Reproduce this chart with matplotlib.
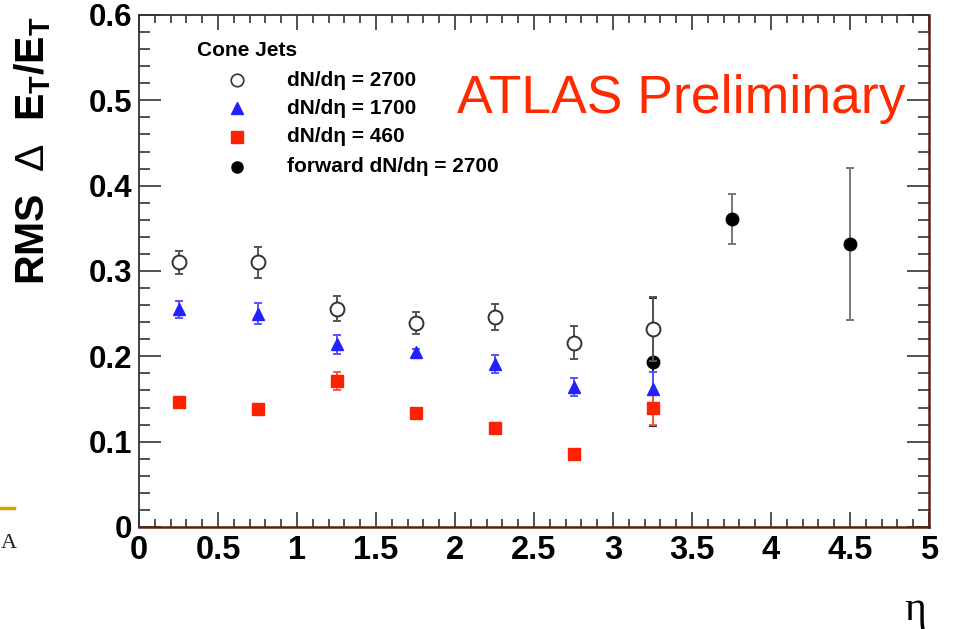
import matplotlib
matplotlib.use("Agg")
import matplotlib.pyplot as plt
from matplotlib.ticker import MultipleLocator
from matplotlib.lines import Line2D

# Cone-jet energy resolution vs pseudorapidity
eta_central = [0.25, 0.75, 1.25, 1.75, 2.25, 2.75, 3.25]

rms_2700 = [0.310, 0.310, 0.256, 0.239, 0.246, 0.216, 0.232]
err_2700 = [0.014, 0.018, 0.015, 0.013, 0.015, 0.019, 0.038]

rms_1700 = [0.255, 0.250, 0.214, 0.205, 0.191, 0.164, 0.162]
err_1700 = [0.010, 0.012, 0.011, 0.004, 0.010, 0.011, 0.020]

rms_460 = [0.147, 0.138, 0.171, 0.134, 0.116, 0.085, 0.139]
err_460 = [0.004, 0.006, 0.011, 0.004, 0.004, 0.003, 0.020]

eta_forward = [3.25, 3.75, 4.5]
rms_forward = [0.193, 0.361, 0.332]
err_forward = [0.075, 0.029, 0.089]

x_ticks = [0, 0.5, 1, 1.5, 2, 2.5, 3, 3.5, 4, 4.5, 5]
x_tick_labels = ["0", "0.5", "1", "1.5", "2", "2.5", "3", "3.5", "4", "4.5", "5"]
y_ticks = [0, 0.1, 0.2, 0.3, 0.4, 0.5, 0.6]
y_tick_labels = ["0", "0.1", "0.2", "0.3", "0.4", "0.5", "0.6"]

legend_title = "Cone Jets"
legend_labels = ["dN/dη = 2700", "dN/dη = 1700", "dN/dη = 460",
                 "forward dN/dη = 2700"]

plt.rcParams["font.family"] = ["Liberation Sans", "DejaVu Sans"]
plt.rcParams["mathtext.fontset"] = "custom"
plt.rcParams["mathtext.rm"] = "Liberation Sans"
plt.rcParams["mathtext.bf"] = "Liberation Sans:bold"

fig = plt.figure(figsize=(9.65, 6.29), dpi=100)
W, H = 965, 629
ax = fig.add_axes([139 / W, 1 - 527 / H, (929 - 139) / W, (527 - 15) / H])

ax.set_xlim(0, 5)
ax.set_ylim(0, 0.6)

ms = 9
# forward points (drawn first so the central markers sit on top)
ax.errorbar(eta_forward[:1], rms_forward[:1], yerr=err_forward[:1], fmt="o",
            color="black", ecolor="#222222", ms=ms, elinewidth=1.4,
            capsize=3, capthick=1.4, zorder=2)
ax.errorbar(eta_forward[1:], rms_forward[1:], yerr=err_forward[1:], fmt="o",
            color="black", ecolor="#777777", ms=ms, elinewidth=1.4,
            capsize=3, capthick=1.4, zorder=2)
ax.errorbar(eta_central, rms_2700, yerr=err_2700, fmt="o", mfc="white",
            mec="#333333", mew=1.4, ecolor="#555555", ms=ms + 1,
            elinewidth=1.4, capsize=3, capthick=1.4, zorder=3)
ax.errorbar(eta_central, rms_1700, yerr=err_1700, fmt="^", color="#2222ff",
            ecolor="#5555ff", ms=ms, elinewidth=1.4, capsize=3,
            capthick=1.4, zorder=3)
ax.errorbar(eta_central, rms_460, yerr=err_460, fmt="s", color="#ff2200",
            ecolor="#ff5544", ms=ms, elinewidth=1.4, capsize=3,
            capthick=1.4, zorder=3)

# ROOT-style frame and inward ticks
ax.set_xticks(x_ticks, x_tick_labels, fontweight="bold", fontsize=23.5)
ax.set_yticks(y_ticks, y_tick_labels, fontweight="bold", fontsize=22.5)
ax.xaxis.set_minor_locator(MultipleLocator(0.1))
ax.yaxis.set_minor_locator(MultipleLocator(0.02))
ax.tick_params(axis="both", which="both", direction="in", top=True,
               right=True, color="#333333", width=1.2)
ax.tick_params(axis="x", which="major", length=11, pad=6)
ax.tick_params(axis="x", which="minor", length=5.5)
ax.tick_params(axis="y", which="major", length=16, pad=5)
ax.tick_params(axis="y", which="minor", length=8)
for side in ["left", "top"]:
    ax.spines[side].set_color("#333333")
    ax.spines[side].set_linewidth(1.3)
for side in ["right", "bottom"]:
    ax.spines[side].set_color("#5a1e16")
    ax.spines[side].set_linewidth(1.8)

# axis titles
fig.text(33 / W, 1 - 16 / H,
         r"RMS  $\Delta$  E$_\mathbf{T}$/E$_\mathbf{T}$",
         rotation=90, ha="center", va="top", fontsize=29.5, fontweight="bold")
fig.text(915 / W, 1 - 610 / H, "η", ha="center", va="center", fontsize=30,
         family=["Liberation Serif", "DejaVu Serif"])

fig.text(457 / W, 1 - 99 / H, "ATLAS Preliminary", ha="left", va="center",
         fontsize=38.5, color="#ff2a00")

# legend block
fig.text(197 / W, 1 - 50 / H, legend_title, ha="left", va="center",
         fontsize=15, fontweight="bold")
handles = [
    dict(marker="o", mfc="white", mec="#333333", mew=1.2, ms=ms),
    dict(marker="^", color="#2222ff", ms=ms - 1),
    dict(marker="s", color="#ff2200", ms=ms - 1),
    dict(marker="o", color="black", ms=ms - 1),
]
rows = [80, 108, 137, 167]
for y, style, label in zip(rows, handles, legend_labels):
    fig.add_artist(Line2D([237 / W], [1 - y / H], transform=fig.transFigure,
                          linestyle="none", **style))
    fig.text(287 / W, 1 - y / H, label, ha="left", va="center", fontsize=15,
             fontweight="bold")

# slide remnants at the left edge
fig.add_artist(Line2D([0, 14 / W], [1 - 507.5 / H, 1 - 507.5 / H],
                      transform=fig.transFigure, color="#d4a200", lw=2.5))
fig.text(1 / W, 1 - 543 / H, "A", ha="left", va="center", fontsize=16,
         family=["Liberation Serif", "DejaVu Serif"], color="#222222")

fig.savefig("out.png", dpi=100)
